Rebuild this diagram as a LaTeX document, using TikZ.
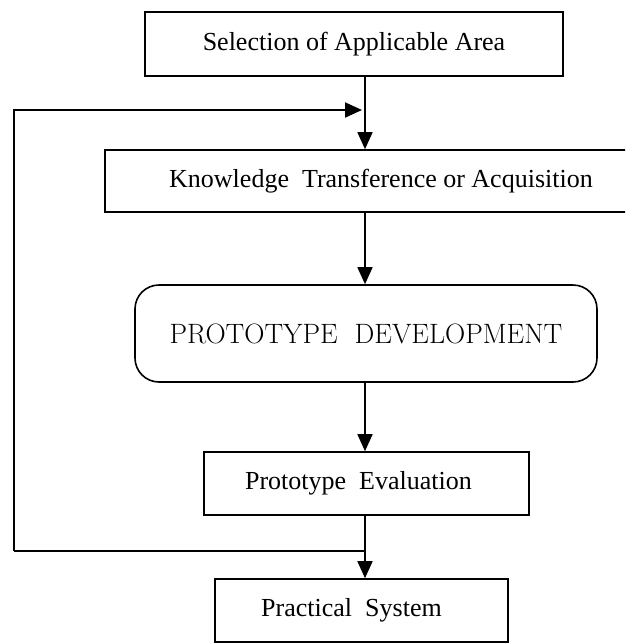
\documentclass[tikz,border=0pt]{standalone}
\usepackage{fontspec}
\usetikzlibrary{arrows.meta}
\newfontfamily\timesfont{Liberation Serif}
\newcommand{\stagefont}{\timesfont\fontsize{26}{30}\selectfont}
\newcommand{\corefont}{\fontsize{28}{32}\selectfont}
\tikzset{
  stage/.style={draw, line width=1.6pt, inner sep=0pt, minimum height=63pt, font=\stagefont},
  core/.style={draw, line width=1.6pt, rounded corners=24pt, inner sep=0pt, font=\corefont},
  flow/.style={-{Triangle[length=17pt,width=15pt]}, line width=1.6pt},
  loopline/.style={line width=1.9pt}
}

\begin{document}
\begin{tikzpicture}[x=1pt,y=-1pt]
  \useasboundingbox (0,0) rectangle (625,643);
  \clip (0,0) rectangle (625,643);

  % stages of the development cycle
  \node[stage, minimum width=418pt, minimum height=64pt] (select) at (354,44) {Selection of Applicable Area};
  \node[stage, minimum width=552pt, minimum height=62pt] (acquire) at (381,181) {Knowledge~~Transference or Acquisition};
  \node[core, minimum width=462pt, minimum height=97pt] (proto) at (366,333.5) {PROTOTYPE~~DEVELOPMENT};
  \node[stage, minimum width=325pt] (evaluate) at (366.5,483.5) {Prototype~~Evaluation\hspace*{16pt}};
  \node[stage, minimum width=293pt] (practical) at (361.5,610.5) {Practical~~System\hspace*{20pt}};

  % main line down the middle
  \coordinate (spine) at (365,0);
  \draw[flow] (select.south -| spine) -- (acquire.north -| spine);
  \draw[flow] (acquire.south -| spine) -- (proto.north -| spine);
  \draw[flow] (proto.south -| spine) -- (evaluate.north -| spine);
  \draw[flow] (evaluate.south -| spine) -- (practical.north -| spine);

  % loop back after evaluation
  \coordinate (tap) at (365,551);
  \coordinate (back) at (14,551);
  \coordinate (rejoin) at (365,110);
  \draw[loopline] (tap) -- (back);
  \draw[flow, line width=1.9pt, shorten >=3pt] (back) |- (rejoin);
\end{tikzpicture}
\end{document}
